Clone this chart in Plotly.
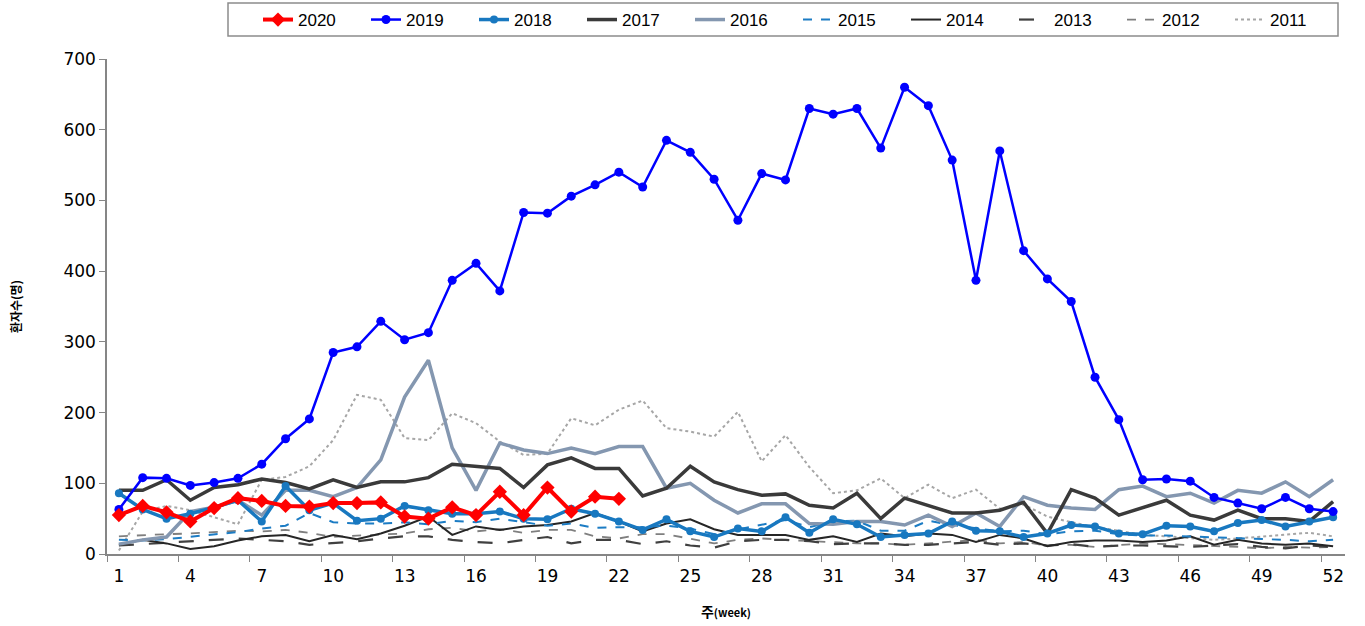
import plotly.graph_objects as go

weeks = list(range(1, 53))
tick_labels = ["1", "4", "7", "10", "13", "16", "19", "22", "25", "28", "31", "34", "37", "40", "43", "46", "49", "52"]

y2020 = [55, 68, 59, 46, 65, 79, 75, 68, 67, 72, 72, 73, 53, 50, 66, 55, 88, 55, 94, 60, 81, 78]
y2019 = [63, 108, 107, 97, 101, 107, 127, 163, 191, 285, 293, 329, 303, 313, 387, 411, 372, 483, 482, 506,
         522, 540, 519, 585, 568, 530, 472, 538, 529, 630, 622, 630, 574, 660, 634, 557, 387, 570, 429, 389,
         357, 250, 190, 105, 106, 103, 80, 72, 64, 80, 64, 60]
y2018 = [86, 63, 50, 57, 66, 76, 46, 96, 62, 72, 47, 50, 68, 62, 57, 57, 60, 50, 49, 64,
         57, 46, 34, 49, 32, 24, 36, 32, 52, 30, 49, 42, 24, 27, 29, 46, 33, 32, 24, 29,
         41, 39, 29, 28, 40, 39, 32, 44, 48, 39, 46, 52]
y2017 = [90, 90, 105, 76, 94, 98, 106, 101, 92, 105, 94, 102, 102, 108, 127, 124, 121, 94, 126, 136,
         121, 121, 82, 93, 124, 102, 91, 83, 85, 69, 65, 86, 50, 79, 69, 58, 58, 62, 73, 29,
         91, 79, 55, 65, 76, 55, 48, 62, 50, 50, 46, 74]
y2016 = [14, 20, 24, 60, 66, 76, 55, 90, 90, 81, 94, 133, 222, 274, 150, 90, 157, 147, 142, 150,
         142, 152, 152, 93, 100, 76, 58, 71, 71, 43, 42, 46, 46, 41, 55, 39, 58, 39, 81, 69,
         65, 63, 91, 96, 81, 86, 72, 90, 86, 102, 81, 105]
y2015 = [20, 19, 21, 24, 27, 31, 36, 40, 58, 45, 43, 43, 45, 42, 47, 45, 50, 45, 40, 43,
         37, 38, 38, 40, 36, 28, 35, 42, 48, 38, 46, 47, 33, 33, 47, 41, 36, 32, 33, 28,
         32, 33, 28, 26, 26, 25, 23, 22, 21, 20, 18, 20]
y2014 = [13, 20, 15, 7, 11, 19, 25, 27, 18, 27, 21, 29, 40, 53, 27, 39, 34, 39, 41, 46,
         58, 46, 32, 43, 49, 35, 27, 27, 27, 20, 25, 17, 29, 25, 29, 27, 17, 27, 22, 11,
         17, 19, 19, 17, 19, 25, 13, 20, 15, 13, 15, 11]
y2013 = [12, 14, 17, 19, 20, 22, 20, 18, 13, 15, 18, 22, 25, 25, 20, 17, 15, 20, 24, 15,
         20, 20, 14, 18, 12, 9, 18, 20, 20, 18, 14, 15, 15, 13, 13, 15, 17, 13, 15, 12,
         14, 10, 12, 12, 11, 10, 12, 14, 10, 8, 12, 10]
y2012 = [25, 27, 28, 29, 31, 33, 32, 34, 30, 24, 26, 27, 29, 35, 37, 32, 35, 30, 34, 34,
         25, 22, 28, 28, 22, 15, 20, 22, 20, 18, 17, 15, 15, 13, 15, 17, 20, 15, 17, 12,
         13, 10, 13, 15, 14, 13, 12, 10, 8, 10, 9, 10]
y2011 = [5, 60, 68, 62, 52, 42, 105, 109, 124, 161, 225, 218, 164, 161, 199, 185, 159, 140, 142, 192,
         182, 204, 217, 178, 173, 166, 201, 131, 168, 123, 86, 90, 107, 79, 98, 79, 91, 64, 70, 53,
         45, 38, 33, 27, 25, 22, 20, 22, 25, 28, 30, 25]

series = [
    ("2011", y2011, dict(color="#A6A6A6", width=2, dash="dot"), None),
    ("2012", y2012, dict(color="#7F7F7F", width=1.8, dash="dash"), None),
    ("2013", y2013, dict(color="#404040", width=2.2, dash="longdash"), None),
    ("2014", y2014, dict(color="#262626", width=2), None),
    ("2015", y2015, dict(color="#1C7CC4", width=2, dash="dash"), None),
    ("2016", y2016, dict(color="#8497B0", width=3.5), None),
    ("2017", y2017, dict(color="#3A3A3A", width=3.5), None),
    ("2018", y2018, dict(color="#1878C0", width=3.5), dict(symbol="circle", size=8, color="#1878C0")),
    ("2019", y2019, dict(color="#0000FF", width=2.5), dict(symbol="circle", size=9, color="#0000FF")),
    ("2020", y2020, dict(color="#FF0000", width=4), dict(symbol="diamond", size=11, color="#FF0000")),
]

fig = go.Figure()
for name, ys, line, marker in series:
    fig.add_trace(go.Scatter(
        x=weeks[:len(ys)], y=ys, name=name,
        mode="lines+markers" if marker else "lines",
        line=line, marker=marker,
    ))

# plot area in page pixels: x 107..1345, y 59..554
PW, PH = 1238, 495
fig.add_shape(type="rect", xref="paper", yref="paper",
              x0=(228 - 107) / PW, x1=(1338 - 107) / PW,
              y0=(554 - 36) / PH, y1=(554 - 3) / PH,
              line=dict(color="#8C8C8C", width=1.5), fillcolor="white", layer="below")

tick_weeks = [int(t) for t in tick_labels]
fig.update_layout(
    width=1365, height=626,
    paper_bgcolor="white", plot_bgcolor="white",
    margin=dict(l=107, r=20, t=59, b=72, autoexpand=False),
    font=dict(family="DejaVu Sans", color="#000000"),
    showlegend=True,
    legend=dict(
        orientation="h", traceorder="reversed",
        x=(258 - 107) / PW, xanchor="left", y=(554 - 2) / PH, yanchor="top",
        borderwidth=0, bgcolor="rgba(0,0,0,0)",
        font=dict(family="Liberation Sans", size=17, color="#000000"),
        entrywidth=63, entrywidthmode="pixels",
    ),
    xaxis=dict(
        range=[0.5, 52.5],
        tickmode="array",
        tickvals=[w - 0.5 for w in tick_weeks],
        ticktext=tick_labels,
        ticklabelshift=12,
        ticks="outside", ticklen=6, tickcolor="#868686",
        showline=True, linecolor="#868686", linewidth=1.5,
        showgrid=False, zeroline=False,
        tickfont=dict(family="DejaVu Sans", size=17, color="#000000"),
        title=dict(text="<b>주<span style='font-size:11px'>(week)</span></b>",
                   font=dict(family="Noto Sans CJK KR", size=14, color="#000000"), standoff=22),
    ),
    yaxis=dict(
        range=[0, 700], dtick=100,
        ticks="outside", ticklen=6, tickcolor="#868686",
        showline=True, linecolor="#868686", linewidth=1.5,
        showgrid=False, zeroline=False,
        tickfont=dict(family="DejaVu Sans", size=17, color="#000000"),
        title=dict(text="<b>환자수(명)</b>",
                   font=dict(family="Noto Sans CJK KR", size=12, color="#000000"), standoff=39),
    ),
)

fig.write_html("out.html", config={"displayModeBar": False},
               post_script="document.body.style.margin='0px';")
